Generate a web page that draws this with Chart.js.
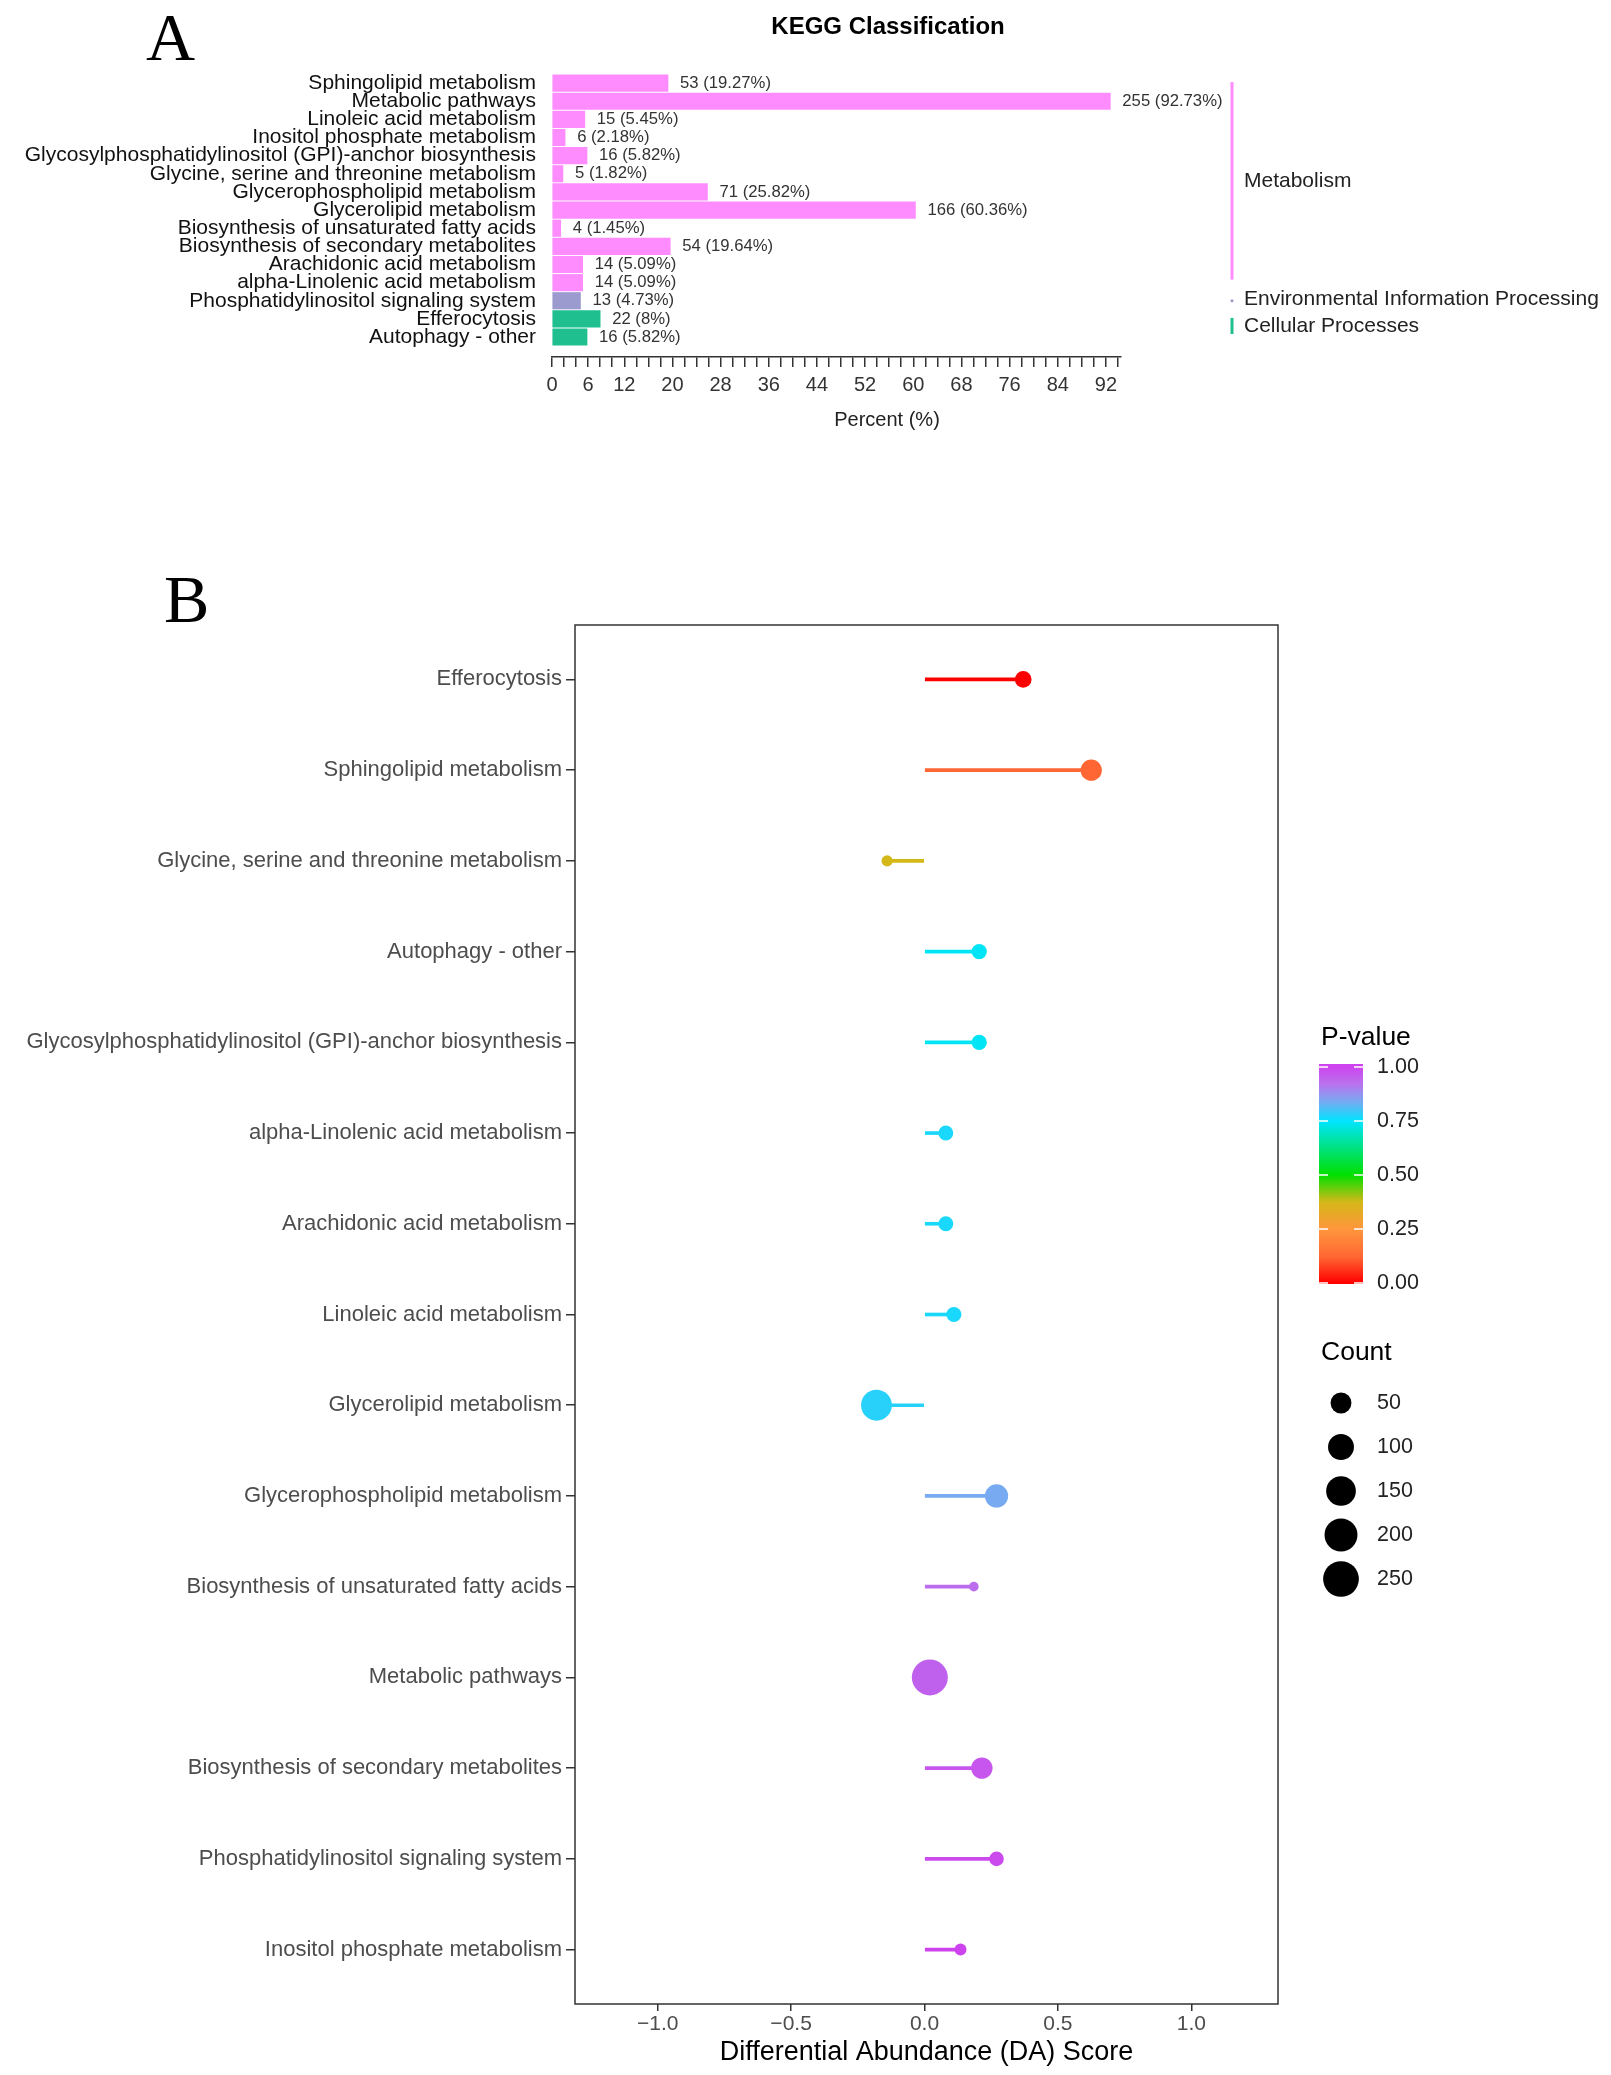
<!DOCTYPE html>
<html>
<head>
<meta charset="utf-8">
<script src="https://cdn.jsdelivr.net/npm/chart.js@4.4.1/dist/chart.umd.min.js"></script>
<style>
  html, body { margin: 0; padding: 0; background: #fff; }
  body { width: 1611px; height: 2075px; position: relative; overflow: hidden; }
  canvas { position: absolute; left: 0; }
  #chartA { top: 0; }
  #chartB { top: 450px; }
</style>
</head>
<body>
<canvas id="chartA" width="1611" height="450"></canvas>
<canvas id="chartB" width="1611" height="1625"></canvas>
<script>
// Panel A - KEGG classification
const keggPathways = [
  'Sphingolipid metabolism',
  'Metabolic pathways',
  'Linoleic acid metabolism',
  'Inositol phosphate metabolism',
  'Glycosylphosphatidylinositol (GPI)-anchor biosynthesis',
  'Glycine, serine and threonine metabolism',
  'Glycerophospholipid metabolism',
  'Glycerolipid metabolism',
  'Biosynthesis of unsaturated fatty acids',
  'Biosynthesis of secondary metabolites',
  'Arachidonic acid metabolism',
  'alpha-Linolenic acid metabolism',
  'Phosphatidylinositol signaling system',
  'Efferocytosis',
  'Autophagy - other'
];
const keggCounts = [53, 255, 15, 6, 16, 5, 71, 166, 4, 54, 14, 14, 13, 22, 16];
const keggPercents = [19.27, 92.73, 5.45, 2.18, 5.82, 1.82, 25.82, 60.36, 1.45, 19.64, 5.09, 5.09, 4.73, 8, 5.82];
const keggClasses = [
  'Metabolism', 'Metabolism', 'Metabolism', 'Metabolism', 'Metabolism', 'Metabolism',
  'Metabolism', 'Metabolism', 'Metabolism', 'Metabolism', 'Metabolism', 'Metabolism',
  'Environmental Information Processing',
  'Cellular Processes', 'Cellular Processes'
];
const percentTickLabels = [0, 6, 12, 20, 28, 36, 44, 52, 60, 68, 76, 84, 92];

// Panel B - differential abundance score
const daPathways = [
  'Efferocytosis',
  'Sphingolipid metabolism',
  'Glycine, serine and threonine metabolism',
  'Autophagy - other',
  'Glycosylphosphatidylinositol (GPI)-anchor biosynthesis',
  'alpha-Linolenic acid metabolism',
  'Arachidonic acid metabolism',
  'Linoleic acid metabolism',
  'Glycerolipid metabolism',
  'Glycerophospholipid metabolism',
  'Biosynthesis of unsaturated fatty acids',
  'Metabolic pathways',
  'Biosynthesis of secondary metabolites',
  'Phosphatidylinositol signaling system',
  'Inositol phosphate metabolism'
];
const daScores = [0.37, 0.625, -0.14, 0.205, 0.205, 0.08, 0.08, 0.11, -0.18, 0.27, 0.185, 0.02, 0.215, 0.27, 0.135];
const daCounts = [22, 53, 5, 16, 16, 14, 14, 15, 166, 71, 4, 255, 54, 13, 6];
const daPvalues = [0.0, 0.12, 0.375, 0.74, 0.74, 0.77, 0.77, 0.77, 0.78, 0.84, 0.93, 0.95, 0.97, 0.99, 1.0];
const daTicks = [-1, -0.5, 0, 0.5, 1];
const pLegendTicks = [0, 0.25, 0.5, 0.75, 1];
const countLegend = [50, 100, 150, 200, 250];

Chart.defaults.font.family = '"Liberation Sans", Arial, sans-serif';
Chart.defaults.animation = false;

const classColors = {
  'Metabolism': '#FF8CFF',
  'Environmental Information Processing': '#9B9BCF',
  'Cellular Processes': '#1FBF8F'
};

// p-value colour ramp (red -> orange -> green -> cyan -> violet)
const pStops = [
  [0, [255, 0, 0]],
  [0.12, [255, 102, 51]],
  [0.25, [255, 150, 60]],
  [0.375, [212, 184, 24]],
  [0.5, [0, 224, 0]],
  [0.75, [0, 229, 255]],
  [0.84, [119, 170, 240]],
  [0.92, [185, 115, 238]],
  [1, [205, 68, 238]]
];
function pColor(p) {
  for (let i = 1; i < pStops.length; i++) {
    if (p <= pStops[i][0]) {
      const [p0, c0] = pStops[i - 1], [p1, c1] = pStops[i];
      const t = (p - p0) / (p1 - p0);
      const c = c0.map((v, k) => Math.round(v + (c1[k] - v) * t));
      return 'rgb(' + c.join(',') + ')';
    }
  }
  return 'rgb(' + pStops[pStops.length - 1][1].join(',') + ')';
}

const cMin = Math.min(...daCounts), cMax = Math.max(...daCounts);
const countRadius = c => 4.8 + 13.2 * Math.sqrt(Math.max(0, (c - cMin) / (cMax - cMin)));

// ---------- Panel A ----------
const panelAText = {
  id: 'panelAText',
  afterDatasetsDraw(chart) {
    const ctx = chart.ctx;
    const meta = chart.getDatasetMeta(0);
    ctx.save();
    ctx.font = '16.7px "Liberation Sans"';
    ctx.fillStyle = '#333';
    ctx.textBaseline = 'middle';
    ctx.textAlign = 'left';
    meta.data.forEach((bar, i) => {
      ctx.fillText(keggCounts[i] + ' (' + keggPercents[i] + '%)', bar.x + 12, bar.y);
    });

    // class brackets on the right
    const y = chart.scales.y;
    const lineX = 1232;
    let start = 0;
    for (let i = 1; i <= keggClasses.length; i++) {
      if (i === keggClasses.length || keggClasses[i] !== keggClasses[start]) {
        const y0 = y.getPixelForValue(start);
        const y1 = y.getPixelForValue(i - 1);
        const col = classColors[keggClasses[start]];
        if (start === i - 1) {
          ctx.fillStyle = col;
          ctx.beginPath();
          ctx.arc(lineX, y0, 1.6, 0, Math.PI * 2);
          ctx.fill();
        } else {
          ctx.strokeStyle = col;
          ctx.lineWidth = 3;
          ctx.beginPath();
          ctx.moveTo(lineX, y0 - 1);
          ctx.lineTo(lineX, y1 - 3);
          ctx.stroke();
        }
        ctx.fillStyle = '#222';
        ctx.font = '21px "Liberation Sans"';
        ctx.fillText(keggClasses[start], lineX + 12, (y0 + y1) / 2 - 2);
        start = i;
      }
    }

    ctx.textAlign = 'center';
    ctx.fillStyle = '#000';
    ctx.font = 'bold 24px "Liberation Sans"';
    ctx.fillText('KEGG Classification', 888, 27);
    ctx.fillStyle = '#222';
    ctx.font = '20px "Liberation Sans"';
    ctx.fillText('Percent (%)', 887, 420);

    ctx.textAlign = 'left';
    ctx.textBaseline = 'alphabetic';
    ctx.fillStyle = '#000';
    ctx.font = '68px "Liberation Serif"';
    ctx.fillText('A', 146, 60);
    ctx.restore();
  }
};

new Chart(document.getElementById('chartA'), {
  type: 'bar',
  data: {
    datasets: [{
      data: keggPercents.map((v, i) => ({ x: v, y: i })),
      backgroundColor: keggClasses.map(c => classColors[c]),
      barThickness: 16.5,
      borderWidth: 0
    }]
  },
  options: {
    indexAxis: 'y',
    responsive: false,
    devicePixelRatio: 1,
    animation: false,
    layout: { padding: { top: 74, right: 490, bottom: 0, left: 0 } },
    plugins: { legend: { display: false }, tooltip: { enabled: false } },
    scales: {
      x: {
        type: 'linear',
        min: 0,
        max: 94.5,
        offset: false,
        afterBuildTicks: s => {
          const t = [];
          for (let v = 0; v <= 94; v += 2) t.push({ value: v });
          s.ticks = t;
        },
        afterFit: s => { s.height = 93; },
        grid: { display: true, drawOnChartArea: false, drawTicks: true, tickLength: 10, color: '#333', lineWidth: 1.5, offset: false },
        border: { display: true, color: '#333', width: 1.5 },
        ticks: {
          autoSkip: false,
          maxRotation: 0,
          padding: 6,
          color: '#333',
          font: { size: 20 },
          callback: v => percentTickLabels.includes(v) ? String(v) : ''
        }
      },
      y: {
        type: 'linear',
        reverse: true,
        min: -0.5,
        max: 15.1,
        offset: false,
        afterBuildTicks: s => { s.ticks = keggPathways.map((_, i) => ({ value: i })); },
        afterFit: s => { s.width = 552; },
        grid: { display: false, drawTicks: false, offset: false },
        border: { display: false },
        ticks: {
          autoSkip: false,
          padding: 16,
          color: '#111',
          font: { size: 21 },
          callback: v => keggPathways[v]
        }
      }
    }
  },
  plugins: [panelAText]
});

// ---------- Panel B ----------
const daColors = daPvalues.map(pColor);

const panelBDecor = {
  id: 'panelBDecor',
  afterDraw(chart) {
    const ctx = chart.ctx;
    const ca = chart.chartArea;
    ctx.save();
    ctx.strokeStyle = '#333';
    ctx.lineWidth = 1.5;
    ctx.strokeRect(ca.left, ca.top, ca.right - ca.left, ca.bottom - ca.top);

    ctx.fillStyle = '#000';
    ctx.font = '68px "Liberation Serif"';
    ctx.textAlign = 'left';
    ctx.textBaseline = 'alphabetic';
    ctx.fillText('B', 164, 172);

    // P-value colour bar
    ctx.textBaseline = 'middle';
    ctx.font = '26.5px "Liberation Sans"';
    ctx.fillText('P-value', 1321, 588);
    const barL = 1319, barW = 44, barTop = 614, barBot = 834;
    const pY = p => 833 - p * 216;
    const grad = ctx.createLinearGradient(0, pY(0), 0, pY(1));
    pStops.forEach(([p, c]) => grad.addColorStop(p, 'rgb(' + c.join(',') + ')'));
    ctx.fillStyle = grad;
    ctx.fillRect(barL, barTop, barW, barBot - barTop);
    ctx.strokeStyle = '#fff';
    ctx.lineWidth = 1.5;
    ctx.font = '21.5px "Liberation Sans"';
    pLegendTicks.forEach(p => {
      const yy = pY(p);
      ctx.beginPath();
      ctx.moveTo(barL, yy); ctx.lineTo(barL + 9, yy);
      ctx.moveTo(barL + barW - 9, yy); ctx.lineTo(barL + barW, yy);
      ctx.stroke();
      ctx.fillStyle = '#222';
      ctx.fillText(p.toFixed(2), 1377, yy);
    });

    // Count size legend
    ctx.fillStyle = '#000';
    ctx.font = '26.5px "Liberation Sans"';
    ctx.fillText('Count', 1321, 903);
    ctx.font = '21.5px "Liberation Sans"';
    countLegend.forEach((c, i) => {
      const yy = 953 + i * 44;
      ctx.fillStyle = '#000';
      ctx.beginPath();
      ctx.arc(1341, yy, countRadius(c), 0, Math.PI * 2);
      ctx.fill();
      ctx.fillStyle = '#222';
      ctx.fillText(String(c), 1377, yy);
    });
    ctx.restore();
  }
};

new Chart(document.getElementById('chartB'), {
  type: 'bar',
  data: {
    datasets: [
      {
        type: 'scatter',
        data: daScores.map((v, i) => ({ x: v, y: i })),
        backgroundColor: daColors,
        pointRadius: daCounts.map(countRadius),
        pointBorderWidth: 0,
        borderWidth: 0,
        order: 0
      },
      {
        type: 'bar',
        data: daScores.map((v, i) => ({ x: [0, v], y: i })),
        backgroundColor: daColors,
        barThickness: 3,
        borderWidth: 0,
        order: 1
      }
    ]
  },
  options: {
    indexAxis: 'y',
    responsive: false,
    devicePixelRatio: 1,
    animation: false,
    layout: { padding: { top: 175, right: 333, bottom: 0, left: 0 } },
    plugins: { legend: { display: false }, tooltip: { enabled: false } },
    scales: {
      x: {
        type: 'linear',
        min: -1.31,
        max: 1.325,
        offset: false,
        afterBuildTicks: s => { s.ticks = daTicks.map(v => ({ value: v })); },
        afterFit: s => { s.height = 71; },
        grid: { display: true, drawOnChartArea: false, drawTicks: true, tickLength: 7, color: '#333', lineWidth: 1.5, offset: false },
        border: { display: false },
        ticks: {
          autoSkip: false,
          maxRotation: 0,
          padding: 1,
          color: '#4D4D4D',
          font: { size: 21 },
          callback: v => (v < 0 ? '\u2212' : '') + Math.abs(v).toFixed(1)
        },
        title: {
          display: true,
          text: 'Differential Abundance (DA) Score',
          color: '#000',
          font: { size: 27 },
          padding: { top: 0, bottom: 6 }
        }
      },
      y: {
        type: 'linear',
        reverse: true,
        min: -0.6,
        max: 14.6,
        offset: false,
        afterBuildTicks: s => { s.ticks = daPathways.map((_, i) => ({ value: i })); },
        afterFit: s => { s.width = 575; },
        grid: { display: true, drawOnChartArea: false, drawTicks: true, tickLength: 9, color: '#333', lineWidth: 1.5, offset: false },
        border: { display: false },
        ticks: {
          autoSkip: false,
          padding: 4,
          color: '#4D4D4D',
          font: { size: 22 },
          callback: v => daPathways[v]
        }
      }
    }
  },
  plugins: [panelBDecor]
});
</script>
</body>
</html>
